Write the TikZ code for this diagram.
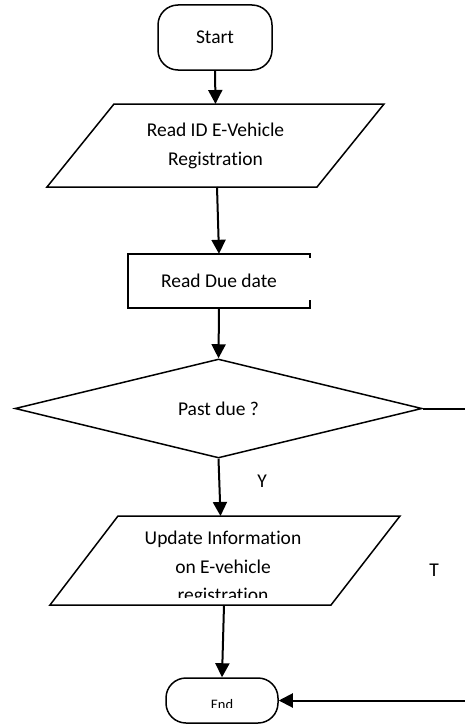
\documentclass[tikz,border=0pt]{standalone}
\usepackage{fontspec}
\setmainfont{Carlito}[Ligatures=NoCommon]
\usetikzlibrary{arrows.meta,shapes.geometric}
\begin{document}
\begin{tikzpicture}[x=1pt,y=-1pt,
  every node/.style={font=\fontsize{19.5}{28.5}\selectfont},
  term/.style={draw, line width=1.5pt, rounded corners=20pt, inner sep=0pt},
  decision/.style={draw, line width=1.5pt, diamond, inner sep=0pt},
  flow/.style={line width=2pt, -{Triangle[width=14pt,length=14pt]}},
  border/.style={line width=1.5pt}
]
\fill[white] (0,0) rectangle (465,725);
\useasboundingbox (0,0) rectangle (465,725);

% Start
\node[term, minimum width=114, minimum height=65] (start) at (215,37.5) {Start};

% Input parallelogram 1
\coordinate (p1a) at (114,104);
\coordinate (p1b) at (384,104);
\coordinate (p1c) at (317,187);
\coordinate (p1d) at (47,187);
\draw[border, line join=miter] (p1a) -- (p1b) -- (p1c) -- (p1d) -- cycle;
\node[align=center] (p1) at (215.5,146) {Read ID E-Vehicle\\Registration};
\coordinate (p1top) at (215.5,104);
\coordinate (p1bot) at (217,187);

% Process box
\node[minimum width=182, minimum height=54, inner sep=0pt] (box) at (219,281) {Read Due date};
\draw[border] ([yshift=-4]box.north east) -- (box.north east) -- (box.north west)
  -- (box.south west) -- (box.south east) -- ([yshift=8]box.south east);

% Decision
\node[decision, minimum width=407, minimum height=99] (dec) at (218.5,408.5) {Past due ?};

% Input parallelogram 2
\coordinate (p2a) at (118,516);
\coordinate (p2b) at (400,516);
\coordinate (p2c) at (331,605);
\coordinate (p2d) at (50,605);
\draw[border, line join=miter] (p2a) -- (p2b) -- (p2c) -- (p2d) -- cycle;
\coordinate (p2top) at (220.5,516);
\coordinate (p2bot) at (224,605);
\begin{scope}
  \clip (40,510) rectangle (410,597);
  \node[align=center] (p2) at (223,568) {Update Information\\on E-vehicle\\registration};
\end{scope}

% End
\node[term, minimum width=112, minimum height=45] (end) at (222,700.5) {};
\begin{scope}
  \clip (150,670) rectangle (300,707);
  \node[font=\fontsize{14.5}{17}\selectfont, anchor=base] (endtxt) at (222,709.5) {End};
\end{scope}

% Labels
\node (ylab) at (262,481) {Y};
\node (tlab) at (434,570) {T};

\coordinate (turn) at (470,408.5);

% Connectors
\draw[flow] (start.south) -- (p1top);
\draw[flow] (p1bot) -- (box.north);
\draw[flow] (box.south) -- (dec.north);
\draw[flow] (dec.south) -- (p2top);
\draw[flow] (p2bot) -- (end.north);
\draw[flow] (dec.east) -- (turn) |- (end.east);
\end{tikzpicture}
\end{document}
